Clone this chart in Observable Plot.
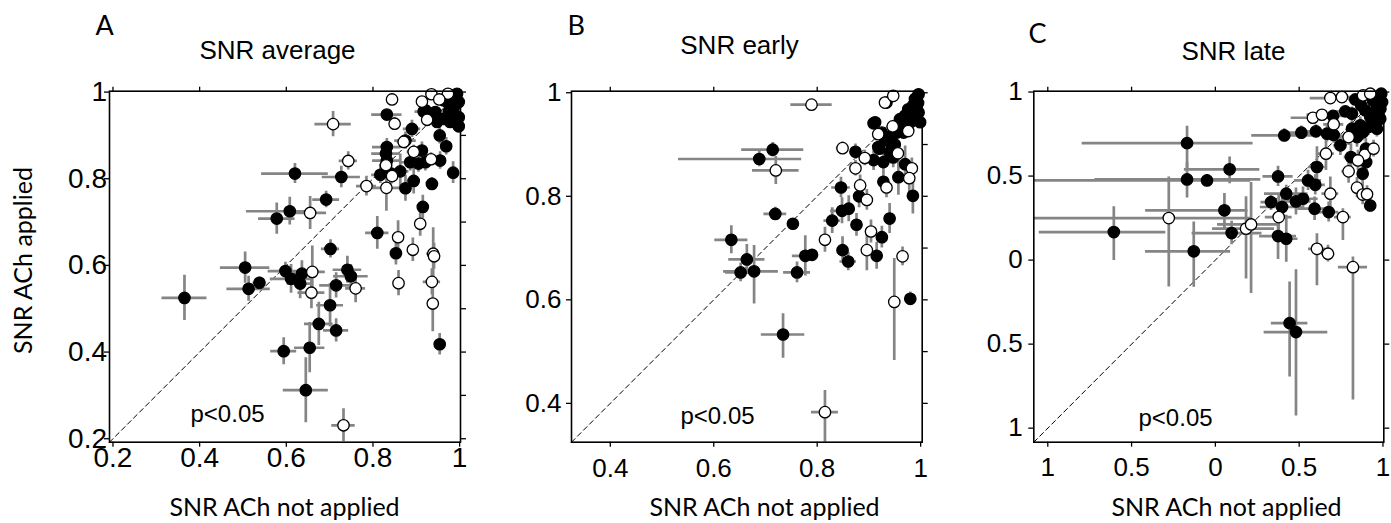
<!DOCTYPE html>
<html>
<head>
<meta charset="utf-8">
<script src="https://cdn.jsdelivr.net/npm/d3@7"></script>
<script src="https://cdn.jsdelivr.net/npm/@observablehq/plot@0.6"></script>
<style>
  body { margin: 0; background: #fff; }
  #wrap { position: relative; width: 1391px; height: 523px; overflow: hidden; background: #fff; }
  #wrap > svg { position: absolute; top: 0; overflow: visible; }
</style>
</head>
<body>
<div id="wrap"></div>
<script>
// ---------- Panel A : SNR average ----------
const xA = [0.365,0.505,0.513,0.538,0.578,0.608,0.620,0.692,0.727,0.702,0.598,0.611,0.636,0.632,0.715,0.741,0.749,0.701,0.675,0.715,0.594,0.654,0.645,0.810,0.853,0.954,0.832,0.917,0.890,0.875,0.832,0.830,0.832,0.817,0.842,0.863,0.875,0.894,0.913,0.886,0.905,0.921,0.955,0.969,0.954,0.936,0.985,0.915,0.921,0.944,0.963,0.978,0.994,0.998,0.986,0.963,0.998,0.998,0.978,0.948,0.975,0.975,
  0.708,0.743,0.655,0.785,0.831,0.858,0.859,0.892,0.909,0.939,0.941,0.936,0.938,0.658,0.660,0.760,0.732,0.844,0.913,0.935,0.973,0.953,0.850,0.925,0.871,0.894,0.830,0.844,0.934];
const yA = [0.525,0.595,0.546,0.560,0.708,0.725,0.812,0.752,0.804,0.638,0.587,0.569,0.581,0.558,0.554,0.590,0.575,0.508,0.465,0.450,0.402,0.410,0.312,0.675,0.628,0.418,0.948,0.955,0.915,0.888,0.873,0.858,0.842,0.809,0.812,0.817,0.778,0.795,0.865,0.838,0.835,0.838,0.842,0.875,0.900,0.788,0.814,0.735,0.958,0.954,0.981,0.992,0.996,0.977,0.962,0.938,0.942,0.921,0.931,0.931,0.954,0.973,
  0.926,0.841,0.721,0.783,0.779,0.665,0.559,0.636,0.696,0.627,0.621,0.562,0.512,0.537,0.585,0.547,0.231,0.983,0.978,0.995,0.996,0.983,0.927,0.936,0.885,0.862,0.831,0.806,0.845];
const xErrA = [0.052,0.057,0.05,0.015,0.042,[0.1,0.055],0.077,0.031,0.044,0.021,0.04,0.048,0.025,0.03,0.038,0.033,0.04,0.031,0.033,0.029,0.03,0.035,0.052,0.027,0.012,0.01,0.035,0.02,0.02,0.025,0.033,0.033,0.033,0.02,0.02,0.02,0.015,0.015,0.015,0.02,0.02,0.015,0.01,0.01,0.01,0.01,0.01,0.01,0.01,0.01,0.01,0.01,0.005,0.005,0.01,0.01,0.005,0.005,0.01,0.01,0.01,0.01,
  0.042,0.021,0.038,0.023,0.038,0.012,0.012,0.012,0.012,0.015,0.012,0.02,0.01,0.031,0.03,0.023,0.027,0.01,0.01,0.01,0.01,0.01,0.01,0.01,0.015,0.015,0.015,0.015,0.01];
const yErrA = [0.052,0.036,0.029,0.013,0.036,0.032,0.023,0.019,0.025,0.021,0.02,0.033,0.03,0.035,0.029,0.031,0.027,0.05,0.05,0.027,0.031,0.058,0.075,0.038,0.027,0.025,0.012,0.015,0.02,0.02,0.02,0.02,0.03,0.02,0.025,0.04,0.03,0.03,0.02,0.02,0.02,0.02,0.02,0.02,0.02,0.015,0.025,0.027,0.01,0.01,0.01,0.01,0.005,0.01,0.01,0.01,0.01,0.01,0.01,0.01,0.01,0.01,
  0.029,0.021,0.038,0.023,0.054,0.038,0.029,0.027,0.029,0.06,0.03,0.03,0.065,0.037,0.06,0.033,0.038,0.01,0.01,0.005,0.005,0.01,0.015,0.015,0.015,0.015,0.015,0.015,0.015];
const openA = [0,0,0,0,0,0,0,0,0,0,0,0,0,0,0,0,0,0,0,0,0,0,0,0,0,0,0,0,0,0,0,0,0,0,0,0,0,0,0,0,0,0,0,0,0,0,0,0,0,0,0,0,0,0,0,0,0,0,0,0,0,0,
  1,1,1,1,1,1,1,1,1,1,1,1,1,1,1,1,1,1,1,1,1,1,1,1,1,1,1,1,1];

// ---------- Panel B : SNR early ----------
const xB = [0.688,0.714,0.719,0.753,0.634,0.664,0.652,0.678,0.734,0.761,0.777,0.790,0.829,0.846,0.848,0.861,0.849,0.860,0.881,0.876,0.874,0.909,0.928,0.947,0.970,0.957,0.928,0.985,0.940,0.925,0.915,0.980,0.909,0.934,0.912,0.925,0.941,0.918,0.931,0.944,0.954,0.963,0.960,0.970,0.976,0.989,0.996,0.999,0.996,0.980,0.967,0.920,0.985,0.995,0.990,0.950,0.940,
  0.789,0.720,0.849,0.892,0.874,0.883,0.896,0.934,0.983,0.978,0.956,0.904,0.815,0.896,0.965,0.949,0.815,0.931,0.947,0.946,0.918,0.976];
const yB = [0.872,0.890,0.766,0.747,0.716,0.678,0.653,0.655,0.533,0.653,0.685,0.687,0.753,0.817,0.772,0.776,0.696,0.674,0.800,0.745,0.886,0.870,0.866,0.875,0.862,0.837,0.828,0.801,0.757,0.721,0.685,0.602,0.941,0.981,0.943,0.923,0.904,0.895,0.910,0.917,0.923,0.933,0.949,0.956,0.968,0.988,0.997,0.943,0.962,0.943,0.923,0.892,0.975,0.980,0.955,0.900,0.885,
  0.977,0.850,0.893,0.874,0.854,0.821,0.793,0.817,0.854,0.835,0.883,0.732,0.716,0.696,0.684,0.596,0.383,0.981,0.994,0.935,0.920,0.926];
const xErrB = [[0.156,0.082],0.06,0.022,0.008,0.032,0.035,0.029,[0.059,0.047],0.042,0.026,0.025,0.01,0.016,0.018,0.022,0.01,0.01,0.016,0.01,0.01,0.01,0.01,0.01,0.01,0.01,0.01,0.01,0.01,0.01,0.01,0.01,0.01,0.01,0.008,0.008,0.008,0.008,0.008,0.008,0.008,0.008,0.008,0.008,0.008,0.008,0.008,0.005,0.005,0.005,0.008,0.008,0.008,0.008,0.005,0.005,0.008,0.008,
  0.04,0.045,0.012,0.01,0.01,0.01,0.01,0.01,0.01,0.01,0.01,0.01,0.01,0.01,0.01,0.01,0.026,0.008,0.008,0.008,0.008,0.008];
const yErrB = [0.015,0.014,0.013,0.008,0.027,0.029,0.018,[0.063,0.05],[0.046,0.04],0.02,0.039,0.01,0.025,0.02,0.025,0.025,0.026,0.018,0.022,0.022,0.015,0.02,0.02,0.02,0.035,0.035,0.02,0.035,0.029,0.021,0.026,0.013,0.01,0.008,0.008,0.008,0.008,0.008,0.008,0.008,0.008,0.008,0.008,0.008,0.008,0.008,0.005,0.008,0.008,0.008,0.008,0.008,0.008,0.008,0.008,0.008,0.008,
  0.008,0.027,0.012,0.015,0.015,0.02,0.02,0.02,0.02,0.03,0.015,0.022,0.024,0.04,0.018,[0.113,0.084],[0.058,0.042],0.008,0.006,0.008,0.008,0.008];
const openB = [0,0,0,0,0,0,0,0,0,0,0,0,0,0,0,0,0,0,0,0,0,0,0,0,0,0,0,0,0,0,0,0,0,0,0,0,0,0,0,0,0,0,0,0,0,0,0,0,0,0,0,0,0,0,0,0,0,
  1,1,1,1,1,1,1,1,1,1,1,1,1,1,1,1,1,1,1,1,1,1];

// ---------- Panel C : SNR late ----------
const xC = [-0.606,-0.169,-0.169,-0.050,0.085,0.054,0.097,-0.129,0.443,0.481,0.374,0.332,0.423,0.398,0.481,0.523,0.592,0.676,0.374,0.423,0.553,0.596,0.606,0.411,0.513,0.600,0.666,0.706,0.746,0.809,0.879,0.924,0.898,0.702,0.775,0.835,0.815,0.894,0.924,0.964,0.984,0.914,0.964,0.865,0.815,0.845,0.900,0.940,0.970,0.990,0.995,0.960,0.985,0.880,0.930,0.945,0.870,
  -0.278,0.183,0.213,0.378,0.660,0.686,0.761,0.795,0.845,0.879,0.905,0.606,0.672,0.821,0.582,0.636,0.706,0.795,0.686,0.755,0.881,0.924,0.891,0.944,0.851];
const yC = [0.167,0.696,0.480,0.474,0.540,0.296,0.161,0.052,-0.375,-0.428,0.498,0.345,0.395,0.316,0.349,0.365,0.306,0.286,0.143,0.127,0.474,0.448,0.554,0.742,0.758,0.766,0.752,0.745,0.683,0.613,0.514,0.325,0.663,0.858,0.885,0.956,0.871,0.891,0.851,0.921,0.841,0.792,0.782,0.802,0.782,0.732,0.583,0.950,0.960,0.990,0.940,0.890,0.900,0.760,0.870,0.820,0.920,
  0.250,0.187,0.212,0.256,0.633,0.395,0.256,0.528,0.431,0.390,0.392,0.067,0.038,-0.042,0.847,0.865,0.808,0.732,0.964,0.970,0.980,0.990,0.627,0.663,0.593];
const xErrC = [[0.445,0.31],[0.626,0.394],[0.55,0.44],[1.1,0.26],[0.27,0.18],[0.47,0.14],[0.236,0.181],[0.288,0.22],0.109,0.19,0.09,0.06,0.13,0.13,0.09,0.09,0.1,0.06,0.11,0.07,0.08,0.06,0.05,0.194,0.1,0.07,0.05,0.05,0.04,0.04,0.03,0.02,0.03,0.06,0.06,0.04,0.04,0.03,0.02,0.02,0.02,0.03,0.02,0.03,0.03,0.03,0.03,0.02,0.02,0.01,0.01,0.02,0.01,0.03,0.02,0.02,0.03,
  [0.9,0.49],[0.2,0.17],[0.2,0.17],0.08,0.05,0.05,0.05,0.04,0.03,0.03,0.03,0.05,0.04,0.087,0.13,0.09,0.06,0.05,0.12,0.08,0.04,0.03,0.03,0.02,0.03];
const yErrC = [[0.17,0.15],[0.16,0.1],[0.11,0.1],0.035,[0.085,0.074],[0.12,0.1],0.07,[0.213,0.175],[0.32,0.245],[0.5,0.37],0.06,0.05,0.05,0.08,0.08,0.07,0.07,0.06,0.14,0.14,0.06,0.06,0.12,0.04,0.04,0.04,0.05,0.05,0.06,0.08,0.07,0.04,0.06,0.03,0.03,0.02,0.04,0.03,0.03,0.02,0.03,0.05,0.05,0.05,0.05,0.06,0.08,0.02,0.02,0.01,0.02,0.03,0.02,0.05,0.03,0.04,0.02,
  [0.41,0.244],[0.3,0.19],[0.41,0.25],0.13,0.1,0.1,[0.14,0.05],0.07,0.06,0.06,0.05,[0.22,0.09],0.05,[0.79,0.06],0.03,0.03,0.04,0.05,0.02,0.02,0.01,0.01,0.06,0.05,0.06];
const openC = [0,0,0,0,0,0,0,0,0,0,0,0,0,0,0,0,0,0,0,0,0,0,0,0,0,0,0,0,0,0,0,0,0,0,0,0,0,0,0,0,0,0,0,0,0,0,0,0,0,0,0,0,0,0,0,0,0,
  1,1,1,1,1,1,1,1,1,1,1,1,1,1,1,1,1,1,1,1,1,1,1,1,1];

// ---------- axes ----------
const domainA = [0.192, 1.002];
const domainB = [0.325, 1.003];
const domainC = [-1.0835, 1.005];
const ticksA = [0.2, 0.4, 0.6, 0.8, 1];
const tickLabelsA = ["0.2", "0.4", "0.6", "0.8", "1"];
const minorA = [0.2, 0.3, 0.4, 0.5, 0.6, 0.7, 0.8, 0.9, 1];
const ticksB = [0.4, 0.6, 0.8, 1];
const tickLabelsB = ["0.4", "0.6", "0.8", "1"];
const minorB = [0.4, 0.5, 0.6, 0.7, 0.8, 0.9, 1];
const ticksC = [-1, -0.5, 0, 0.5, 1];
const tickLabelsC = ["1", "0.5", "0", "0.5", "1"];
const minorC = [-1, -0.5, 0, 0.5, 1];

const TICKFONT = "'Liberation Sans', Arial, Helvetica, sans-serif";
const LABFONT = "Lato, 'Open Sans', sans-serif";

function pair(e) { return Array.isArray(e) ? e : [e, e]; }

function panel(cfg) {
  const rows = cfg.x.map((x, i) => {
    const [xl, xh] = pair(cfg.xe[i]);
    const [yl, yh] = pair(cfg.ye[i]);
    const y = cfg.y[i];
    return {x, y, x1: x - xl, x2: x + xh, y1: y - yl, y2: y + yh, open: cfg.open[i]};
  });
  const MT = 90.7, MB = 81.3;
  const txt = (s, px, py, o) => Plot.text([s], Object.assign({
    frameAnchor: "top-left", dx: px - cfg.ml, dy: py - MT,
    lineAnchor: "bottom", fill: "black"
  }, o));
  const fmt = (labels, ticks) => d => labels[ticks.indexOf(d)] ?? "";
  return Plot.plot({
    width: cfg.w, height: 523,
    marginLeft: cfg.ml, marginRight: cfg.mr, marginTop: MT, marginBottom: MB,
    x: {domain: cfg.domain},
    y: {domain: cfg.domain},
    style: {background: "white", fontFamily: TICKFONT, overflow: "visible"},
    marks: [
      Plot.line(cfg.domain, {x: d => d, y: d => d, stroke: "black", strokeWidth: 1, strokeDasharray: "5,3.5"}),
      Plot.ruleY(rows, {y: "y", x1: "x1", x2: "x2", stroke: "#858585", strokeWidth: 2.7, clip: true}),
      Plot.ruleX(rows, {x: "x", y1: "y1", y2: "y2", stroke: "#858585", strokeWidth: 2.7, clip: true}),
      Plot.dot(rows, {x: "x", y: "y", r: 5.7, fill: d => d.open ? "white" : "black", stroke: "black", strokeWidth: 1.3}),
      Plot.frame({stroke: "black", strokeWidth: 1.6}),
      // tick marks
      Plot.axisX({anchor: "bottom", ticks: cfg.ticks, tickSize: 5, fill: "none", label: null, strokeWidth: 1.3}),
      Plot.axisX({anchor: "top", ticks: cfg.top, tickSize: 5, fill: "none", label: null, strokeWidth: 1.3}),
      Plot.axisY({anchor: "left", ticks: cfg.ticks, tickSize: 5, fill: "none", label: null, strokeWidth: 1.3}),
      Plot.axisY({anchor: "right", ticks: cfg.minor, tickSize: 5, fill: "none", label: null, strokeWidth: 1.3}),
      // tick labels
      Plot.axisX({anchor: "bottom", ticks: cfg.ticks, tickSize: 0, tickPadding: cfg.padX, tickFormat: fmt(cfg.labels, cfg.ticks), label: null, fontSize: cfg.fs, fontFamily: TICKFONT, fill: "black"}),
      Plot.axisY({anchor: "left", ticks: cfg.ticks, tickSize: 0, tickPadding: cfg.padY, tickFormat: fmt(cfg.labels, cfg.ticks), label: null, fontSize: cfg.fs, fontFamily: TICKFONT, fill: "black"}),
      // texts
      txt(cfg.letter, cfg.letterPos[0], cfg.letterPos[1], {fontSize: 27, fontFamily: LABFONT, textAnchor: "start"}),
      txt(cfg.title, cfg.titlePos[0], cfg.titlePos[1], {fontSize: 26, fontFamily: TICKFONT, textAnchor: "middle"}),
      txt("p<0.05", cfg.pPos[0], cfg.pPos[1], {fontSize: 24, fontFamily: TICKFONT, textAnchor: "start"}),
      txt("SNR ACh not applied", cfg.xlabPos[0], cfg.xlabPos[1], {fontSize: 25, fontFamily: LABFONT, textAnchor: "middle"}),
      cfg.ylab ? txt(cfg.ylab, cfg.ylabPos[0], cfg.ylabPos[1], {fontSize: 25, fontFamily: LABFONT, textAnchor: "middle", lineAnchor: "middle", rotate: -90}) : null
    ]
  });
}

const wrap = document.getElementById("wrap");
const panels = [
  {left: 0, w: 470, ml: 109, mr: 10, x: xA, y: yA, xe: xErrA, ye: yErrA, open: openA, domain: domainA,
   ticks: ticksA, labels: tickLabelsA, top: [0.2, 0.4, 0.6, 0.8], minor: minorA, fs: 28, padX: 5, padY: 2.5,
   letter: "A", letterPos: [95, 35], title: "SNR average", titlePos: [277, 59], pPos: [190, 421], xlabPos: [284, 515],
   ylab: "SNR ACh applied", ylabPos: [23, 260]},
  {left: 470, w: 460, ml: 101, mr: 8.3, x: xB, y: yB, xe: xErrB, ye: yErrB, open: openB, domain: domainB,
   ticks: ticksB, labels: tickLabelsB, top: [0.4, 0.6, 0.8], minor: minorB, fs: 26, padX: 16, padY: 10,
   letter: "B", letterPos: [97, 35], title: "SNR early", titlePos: [269, 54], pPos: [210, 423], xlabPos: [294, 515]},
  {left: 930, w: 461, ml: 103.3, mr: 7.7, x: xC, y: yC, xe: xErrC, ye: yErrC, open: openC, domain: domainC,
   ticks: ticksC, labels: tickLabelsC, top: [-1, -0.5, 0, 0.5], minor: minorC, fs: 26, padX: 15, padY: 11,
   letter: "C", letterPos: [98, 43], title: "SNR late", titlePos: [303, 60], pPos: [208, 425], xlabPos: [296, 515]}
];
for (const p of panels) {
  const svg = panel(p);
  svg.style.left = p.left + "px";
  wrap.appendChild(svg);
}
</script>
</body>
</html>
